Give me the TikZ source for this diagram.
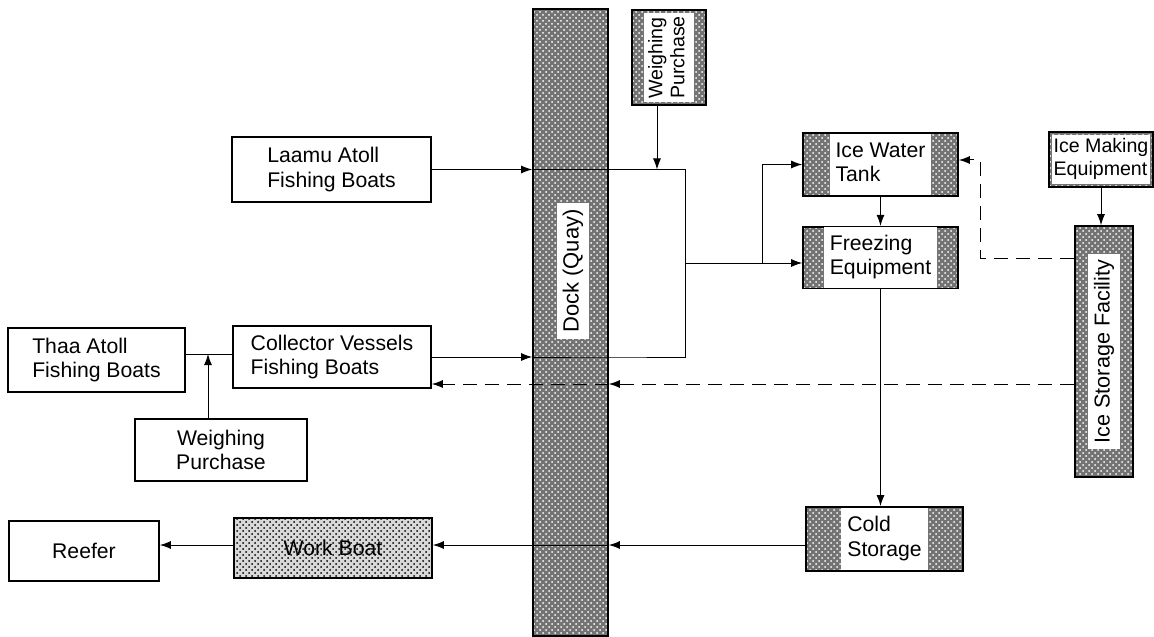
\documentclass[tikz,border=0pt]{standalone}
\usepackage{fontspec}
\setmainfont{Liberation Sans}
\usetikzlibrary{arrows.meta,patterns,calc,positioning}

\newcommand{\wtxt}[1]{\colorbox{white}{\begin{tabular}{@{}l@{}}#1\end{tabular}}}

\begin{document}
\begin{tikzpicture}[x=0.5pt, y=-0.5pt,
  box/.style={draw, line width=0.8pt, align=left, inner sep=0pt, font=\fontsize{10.6}{12.4}\selectfont},
  grain/.style={box, preaction={fill=black!55}, pattern=crosshatch dots, pattern color=white},
  screen/.style={box, preaction={fill=black!15}, pattern=crosshatch dots, pattern color=black},
  arr/.style={-{Latex[length=5.5pt,width=4pt]}, line width=0.5pt},
  darr/.style={arr, dash pattern=on 7pt off 4pt},
]
\useasboundingbox (0,0) rectangle (1154,636);

% quay
\node[grain, minimum width=37.5pt, minimum height=313.5pt] (dock) at (570.5,322.5) {};
\node[inner sep=0pt, font=\fontsize{11}{13}\selectfont] (docktxt) at (573,271) {\rotatebox{90}{\colorbox{white}{Dock (Quay)}}};

% boats side
\node[box, minimum width=99.5pt, minimum height=32.5pt] (laamu) at (331.5,169.5) {Laamu Atoll\\Fishing Boats};
\node[box, minimum width=99pt, minimum height=31pt] (collector) at (332,357) {Collector Vessels\\Fishing Boats};
\node[box, minimum width=88.5pt, minimum height=32pt] (thaa) at (96.5,360) {Thaa Atoll\\Fishing Boats};
\node[box, minimum width=86pt, minimum height=31pt, align=center] (weighlow) at (221,450) {Weighing\\Purchase};
\node[box, minimum width=75pt, minimum height=30pt] (reefer) at (84,551) {Reefer};
\node[screen, minimum width=99pt, minimum height=30pt] (workboat) at (333,548) {Work Boat};

% plant side
\node[grain, minimum width=37pt, minimum height=47.5pt, font=\fontsize{9.8}{11}\selectfont] (weightop) at (669,57.5) {\setlength{\fboxsep}{1.5pt}\rotatebox{90}{\wtxt{Weighing\\Purchase}}};
\node[grain, minimum width=77.5pt, minimum height=31.5pt] (icetank) at (880.5,164.5) {\wtxt{Ice Water\\Tank}};
\node[grain, minimum width=77.5pt, minimum height=30.5pt] (freezing) at (880.5,257.5) {\wtxt{Freezing\\Equipment}};
\node[grain, minimum width=78.5pt, minimum height=32pt] (coldstore) at (884.5,539) {\wtxt{Cold\\Storage}};
\node[grain, minimum width=52pt, minimum height=27.5pt, font=\fontsize{9.8}{11.2}\selectfont] (icemaking) at (1101,159.5) {\setlength{\fboxsep}{1pt}\wtxt{Ice Making\\Equipment}};
\node[grain, minimum width=29pt, minimum height=125.5pt, font=\fontsize{10.8}{12.6}\selectfont] (icestore) at (1104,351.5) {\rotatebox{90}{\colorbox{white}{Ice Storage Facility}}};

% bends and levels
\coordinate (trunk) at (685,263);
\coordinate (fork) at (762,263);
\coordinate (bend) at (980,160);
\coordinate (icelvl) at (1075,258);
\coordinate (retlvl) at (1075,384);
\coordinate (shiplvl) at (0,545);
\coordinate (joinlvl) at (0,354);
\coordinate (drop) at ($(weightop.south)+(-12,0)$);
\coordinate (lift) at ($(weighlow.north)+(-13,0)$);

% catch in
\draw[arr] (laamu.east) -- (laamu.east -| dock.west);
\draw[arr] (collector.east) -- (collector.east -| dock.west);
\draw (laamu.east -| dock.west) -- (laamu.east -| dock.east) -| (trunk) |- (collector.east -| dock.east) -- (collector.east -| dock.west);
\draw[arr] (drop) -- (drop |- laamu.east);
\draw[arr] (trunk) -- (trunk -| freezing.west);
\draw[arr] (fork) |- (icetank.west);
\draw[arr] (icetank.south) -- (freezing.north);
\draw[arr, line width=0.7pt] (freezing.south) -- (freezing.south |- coldstore.north);

% ice
\draw[arr] (icemaking.south) -- (icemaking.south |- icestore.north);
\draw[darr] (icestore.west |- icelvl) -| (bend) -- (bend -| icetank.east);
\draw[darr] (icestore.west |- retlvl) -- (retlvl -| dock.east);
\draw[darr] (retlvl -| dock.east) -- (retlvl -| collector.east);

% shipping out
\draw[arr] (coldstore.west |- shiplvl) -- (shiplvl -| dock.east);
\draw[arr] (shiplvl -| dock.east) -- (shiplvl -| workboat.east);
\draw[arr] (workboat.west |- shiplvl) -- (shiplvl -| reefer.east);

% thaa side
\draw (thaa.east |- joinlvl) -- (collector.west |- joinlvl);
\draw[arr] (lift) -- (lift |- joinlvl);
\end{tikzpicture}
\end{document}
